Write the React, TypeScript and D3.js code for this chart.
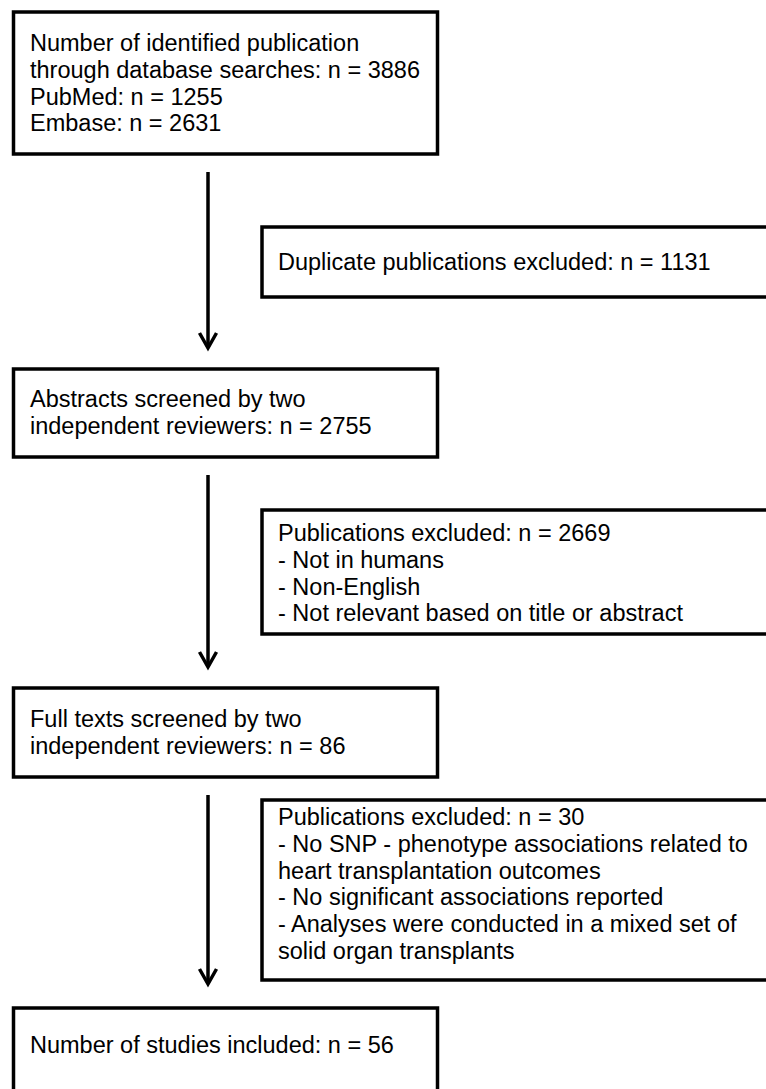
import React, { useEffect, useRef } from "react";
import * as d3 from "d3";

const identificationLines = [
  "Number of identified publication",
  "through database searches: n = 3886",
  "PubMed: n = 1255",
  "Embase: n = 2631",
];
const abstractLines = ["Abstracts screened by two", "independent reviewers: n = 2755"];
const fullTextLines = ["Full texts screened by two", "independent reviewers: n = 86"];
const includedLines = ["Number of studies included: n = 56"];

const duplicateLines = ["Duplicate publications excluded: n = 1131"];
const abstractExclLines = [
  "Publications excluded: n = 2669",
  "- Not in humans",
  "- Non-English",
  "- Not relevant based on title or abstract",
];
const fullTextExclLines = [
  "Publications excluded: n = 30",
  "- No SNP - phenotype associations related to",
  "heart transplantation outcomes",
  "- No significant associations reported",
  "- Analyses were conducted in a mixed set of",
  "solid organ transplants",
];

const mainSteps = [identificationLines, abstractLines, fullTextLines, includedLines];
const exclusionSteps = [duplicateLines, abstractExclLines, fullTextExclLines];

const W = 766;
const H = 1089;
const FONT = 23.5;
const LH = 26.8;
const SW = 3.5;

// layout (pixel geometry)
const mainTops = [12, 369, 688, 1008];
const mainBottoms = [154, 457, 777, 1130];
const mainBase = [51, 407, 727, 1053];
const exclTops = [227, 510, 800];
const exclBottoms = [297, 634, 980];
const exclBase = [270, 541, 825];
const arrows = [
  [172, 350],
  [475, 669],
  [795, 986],
];

export default function App() {
  const ref = useRef<SVGSVGElement | null>(null);
  useEffect(() => {
    const svg = d3.select(ref.current);
    svg.selectAll("*").remove();
    const g = svg.append("g");

    const drawBox = (x0: number, x1: number, y0: number, y1: number, lines: string[], tx: number, base: number) => {
      g.append("rect")
        .attr("x", x0)
        .attr("y", y0)
        .attr("width", x1 - x0)
        .attr("height", y1 - y0)
        .attr("fill", "white")
        .attr("stroke", "black")
        .attr("stroke-width", SW);
      const t = g
        .append("text")
        .attr("font-family", "'Liberation Sans', Arial, sans-serif")
        .attr("font-size", FONT)
        .attr("fill", "black");
      lines.forEach((l, i) => {
        t.append("tspan").attr("x", tx).attr("y", base + i * LH).text(l);
      });
    };

    mainSteps.forEach((lines, i) => drawBox(13.5, 437.5, mainTops[i], mainBottoms[i], lines, 30, mainBase[i]));
    exclusionSteps.forEach((lines, i) => drawBox(262, 820, exclTops[i], exclBottoms[i], lines, 278, exclBase[i]));

    const line = d3.line<[number, number]>();
    const ax = 208;
    arrows.forEach(([y0, y1]) => {
      g.append("path")
        .attr("d", line([[ax, y0], [ax, y1 - 2]]))
        .attr("stroke", "black")
        .attr("stroke-width", SW)
        .attr("fill", "none");
      g.append("path")
        .attr("d", line([[ax - 8.5, y1 - 17], [ax, y1 - 2], [ax + 8.5, y1 - 17]]))
        .attr("stroke", "black")
        .attr("stroke-width", SW)
        .attr("stroke-linejoin", "miter")
        .attr("fill", "none");
    });
  }, []);

  return (
    <svg
      ref={ref}
      width={W}
      height={H}
      style={{ position: "absolute", left: 0, top: 0, background: "white" }}
    />
  );
}
